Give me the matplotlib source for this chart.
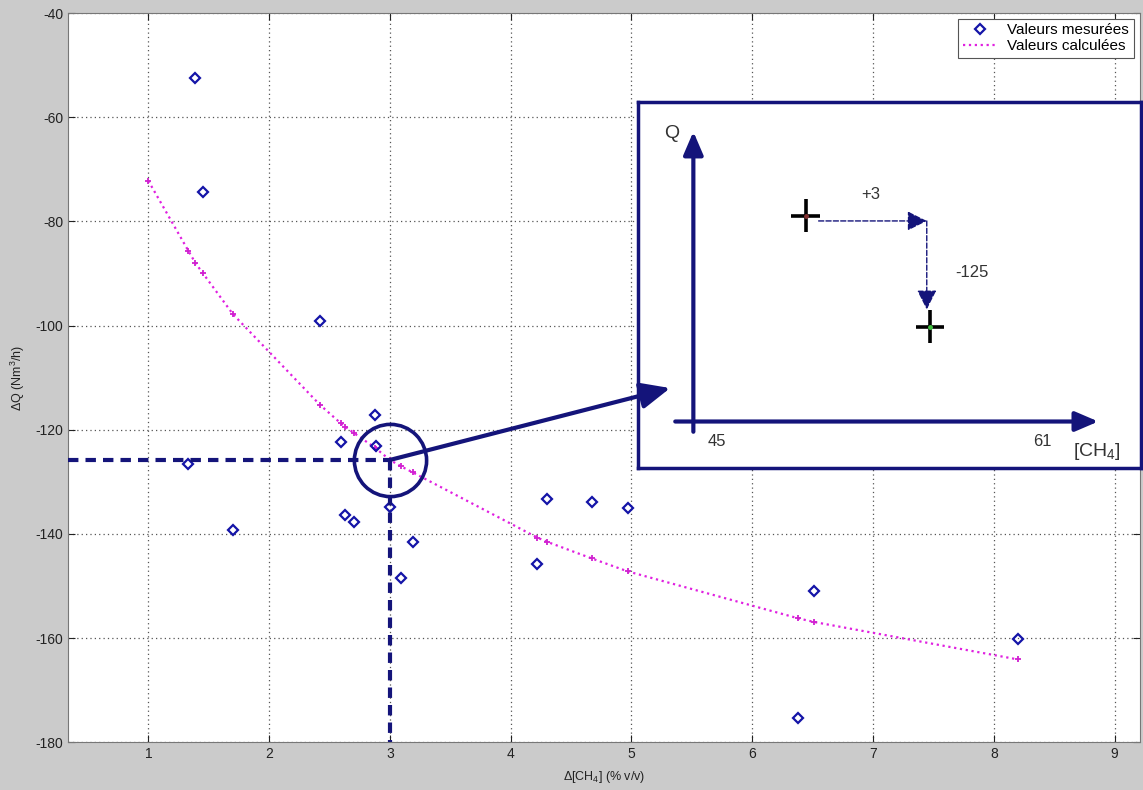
import numpy as np
import matplotlib
matplotlib.use("Agg")
import matplotlib.pyplot as plt
from matplotlib.patches import FancyArrowPatch

plt.rcParams['font.family'] = ['Liberation Sans', 'DejaVu Sans']
plt.rcParams['mathtext.default'] = 'regular'
plt.rcParams['axes.unicode_minus'] = False

# measured points: delta CH4 (% v/v) vs delta Q (Nm3/h)
ch4_mes = [1.33, 1.39, 1.45, 1.70, 2.42, 2.595, 2.63, 2.70, 2.88, 2.885,
           3.00, 3.09, 3.19, 4.22, 4.30, 4.67, 4.97, 6.38, 6.51, 8.20]
q_mes = [-126.6, -52.5, -74.3, -139.2, -99.2, -122.4, -136.4, -137.8, -117.2, -123.2,
         -134.9, -148.4, -141.6, -145.8, -133.3, -133.8, -135.1, -175.3, -150.9, -160.2]

# model values
ch4_calc = [1.00, 1.33, 1.39, 1.45, 1.70, 2.42, 2.595, 2.63, 2.70, 2.88, 2.885,
            3.00, 3.09, 3.19, 4.22, 4.30, 4.67, 4.97, 6.38, 6.51, 8.20]
q_calc = [-72.2, -85.6, -88.0, -89.9, -97.8, -115.2, -118.8, -119.4, -120.6, -123.5, -123.6,
          -125.8, -127.0, -128.2, -140.7, -141.5, -144.7, -147.2, -156.2, -156.9, -164.1]

x_ticks = [1, 2, 3, 4, 5, 6, 7, 8, 9]
y_ticks = [-180, -160, -140, -120, -100, -80, -60, -40]

# operating point read on the model curve
ch4_op = 3.0
q_op = float(np.interp(ch4_op, ch4_calc, q_calc))
arrow_end = (5.32, -112.0)

navy = '#14147a'
bg = '#cbcbcb'

fig = plt.figure(figsize=(11.43, 7.9), dpi=100, facecolor=bg)
ax = fig.add_axes([0.0595, 0.0604, 0.9379, 0.9231])
ax.set_facecolor('white')

ax.set_xlim(0.335, 9.21)
ax.set_ylim(-180, -40)
ax.set_xticks(x_ticks)
ax.set_yticks(y_ticks)
ax.tick_params(direction='in', length=5, labelsize=10, colors='#222222',
               top=True, right=True)
for s in ax.spines.values():
    s.set_color('#777777')
ax.grid(True, color='#555555', linestyle=(0, (1, 2.5)), linewidth=0.9)

ax.set_xlabel('Δ[CH$_4$] (% v/v)', fontsize=9, color='#222222', labelpad=6)
ax.set_ylabel('ΔQ (Nm$^3$/h)', fontsize=9, color='#222222', labelpad=6)

# model curve then measurements
ax.plot(ch4_calc, q_calc, color='#e020e0', linestyle=':', linewidth=1.6,
        label='Valeurs calculées', zorder=3)
ax.plot(ch4_calc, q_calc, color='#d020d0', linestyle='none', marker='+',
        markersize=5, markeredgewidth=1.3, zorder=3)
ax.plot(ch4_mes, q_mes, linestyle='none', marker='D', markersize=5.5,
        markerfacecolor='none', markeredgecolor='#1414a8', markeredgewidth=1.6,
        label='Valeurs mesurées', zorder=4)

# thick dashed guides to the operating point
ax.plot([ax.get_xlim()[0], ch4_op], [q_op, q_op], color=navy, linewidth=3,
        dashes=(2.5, 1.7), zorder=5)
ax.plot([ch4_op, ch4_op], [q_op, ax.get_ylim()[0]], color=navy, linewidth=3,
        dashes=(2.5, 1.7), zorder=5)
ax.plot([ch4_op], [q_op], marker='o', markersize=52, markerfacecolor='none',
        markeredgecolor=navy, markeredgewidth=2.6, zorder=5)

handles, labels = ax.get_legend_handles_labels()
leg = ax.legend(handles[::-1], labels[::-1], loc='upper right',
                bbox_to_anchor=(0.994, 0.992), borderaxespad=0, fontsize=11,
                fancybox=False, framealpha=1, edgecolor='#555555',
                labelspacing=0.1, handlelength=2.2, handletextpad=0.7,
                borderpad=0.3)
leg.get_frame().set_linewidth(0.8)

# zoom box explaining the shift
ax_in = fig.add_axes([0.5582, 0.4076, 0.4401, 0.4633])
ax_in.set_xlim(0, 1)
ax_in.set_ylim(0, 1)
ax_in.set_xticks([])
ax_in.set_yticks([])
ax_in.set_facecolor('white')
for s in ax_in.spines.values():
    s.set_color(navy)
    s.set_linewidth(2.5)

axis_arrow = dict(arrowstyle='-|>,head_length=0.7,head_width=0.3',
                  color=navy, lw=3, mutation_scale=20, shrinkA=0, shrinkB=0)
ax_in.annotate('', xy=(0.110, 0.919), xytext=(0.110, 0.099), arrowprops=axis_arrow)
ax_in.annotate('', xy=(0.915, 0.127), xytext=(0.074, 0.127), arrowprops=axis_arrow)

txt = dict(color='#333333', ha='center', va='center')
ax_in.text(0.067, 0.914, 'Q', fontsize=14, **txt)
ax_in.text(0.157, 0.072, '45', fontsize=12, **txt)
ax_in.text(0.803, 0.072, '61', fontsize=12, **txt)
ax_in.text(0.912, 0.045, '[CH$_4$]', fontsize=14, **txt)
ax_in.text(0.462, 0.746, '+3', fontsize=12, **txt)
ax_in.text(0.663, 0.535, '-125', fontsize=12, **txt)

step_arrow = dict(arrowstyle='-|>,head_length=0.6,head_width=0.3',
                  color=navy, lw=1, linestyle='--', mutation_scale=20,
                  shrinkA=0, shrinkB=0)
ax_in.annotate('', xy=(0.574, 0.675), xytext=(0.359, 0.675), arrowprops=step_arrow)
ax_in.annotate('', xy=(0.574, 0.433), xytext=(0.574, 0.675), arrowprops=step_arrow)

# start and shifted points, drawn as long-armed crosses
for cx, cy, dot in [(0.333, 0.689, '#803030'), (0.581, 0.386, '#40c040')]:
    ax_in.plot([cx - 0.028, cx + 0.028], [cy, cy], color='black', lw=2.6,
               solid_capstyle='butt')
    ax_in.plot([cx, cx], [cy - 0.045, cy + 0.045], color='black', lw=2.6,
               solid_capstyle='butt')
    ax_in.plot([cx], [cy], marker='o', markersize=2.5, color=dot)

# arrow from the circled point into the box, drawn on top of both axes
link = FancyArrowPatch((ch4_op, q_op), arrow_end, transform=ax.transData,
                       arrowstyle='-|>,head_length=0.9,head_width=0.4',
                       mutation_scale=20, color=navy, lw=3,
                       shrinkA=0, shrinkB=0)
fig.add_artist(link)

fig.savefig('out.png', dpi=100, facecolor=bg)
